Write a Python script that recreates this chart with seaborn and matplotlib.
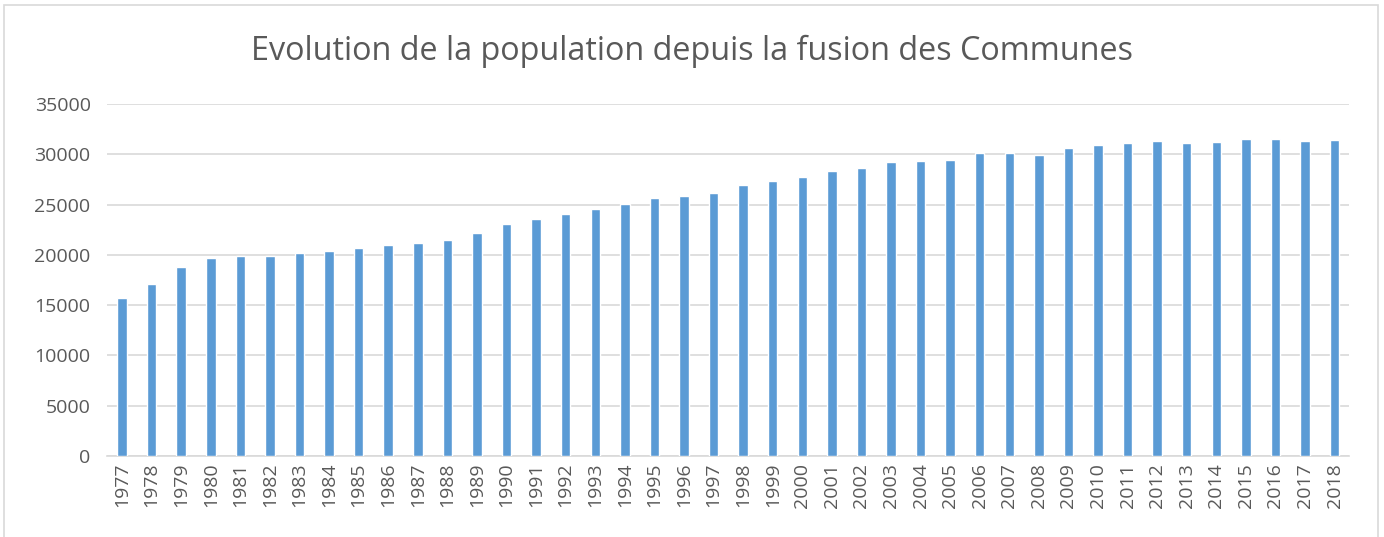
import matplotlib.pyplot as plt
import matplotlib.patches as patches
import pandas as pd
import seaborn as sns

# population par annee
years = [str(y) for y in range(1977, 2019)]
population = [15670, 17120, 18790, 19680, 19910, 19930, 20180, 20380, 20680, 20980,
              21150, 21500, 22170, 23040, 23580, 24070, 24540, 25100, 25640, 25870,
              26200, 27000, 27390, 27760, 28390, 28690, 29230, 29320, 29470, 30170,
              30170, 29930, 30670, 30930, 31100, 31300, 31160, 31200, 31560, 31490,
              31330, 31430]
yticks = [0, 5000, 10000, 15000, 20000, 25000, 30000, 35000]

df = pd.DataFrame({"annee": years, "population": population})

sns.set_theme(style="white")
plt.rcParams['font.family'] = ['Open Sans', 'DejaVu Sans']

fig = plt.figure(figsize=(13.84, 5.37), dpi=100)
ax = fig.add_axes([0.0775, 0.151, 0.8975, 0.655])

sns.barplot(data=df, x="annee", y="population", color="#5B9BD5",
            saturation=1, width=0.32, ax=ax, zorder=3)

ax.set_ylim(0, 35000)
ax.set_yticks(yticks)
ax.set_yticklabels([str(t) for t in yticks])
ax.set_xlim(-0.5, len(years) - 0.5)
ax.grid(axis="y", color="#D9D9D9", linewidth=1.2, zorder=0)
ax.set_axisbelow(True)
for s in ["top", "right", "left"]:
    ax.spines[s].set_visible(False)
ax.spines["bottom"].set_color("#D9D9D9")
ax.spines["bottom"].set_linewidth(1.2)
ax.tick_params(axis="both", length=0, colors="#595959", labelsize=14)
ax.tick_params(axis="y", pad=12)
ax.tick_params(axis="x", pad=5)
plt.setp(ax.get_xticklabels(), rotation=90)
ax.set_xlabel("")
ax.set_ylabel("")

fig.text(0.5, 0.905, "Evolution de la population depuis la fusion des Communes",
         ha="center", va="center", fontsize=23.3, color="#595959")

# cadre gris autour du graphique
fig.patches.append(patches.Rectangle((4 / 1384, -0.02), 1374 / 1384, 1 - 5 / 537 + 0.02,
                                     transform=fig.transFigure, fill=False,
                                     edgecolor="#D9D9D9", linewidth=1.2))

fig.savefig("out.png", dpi=100)
